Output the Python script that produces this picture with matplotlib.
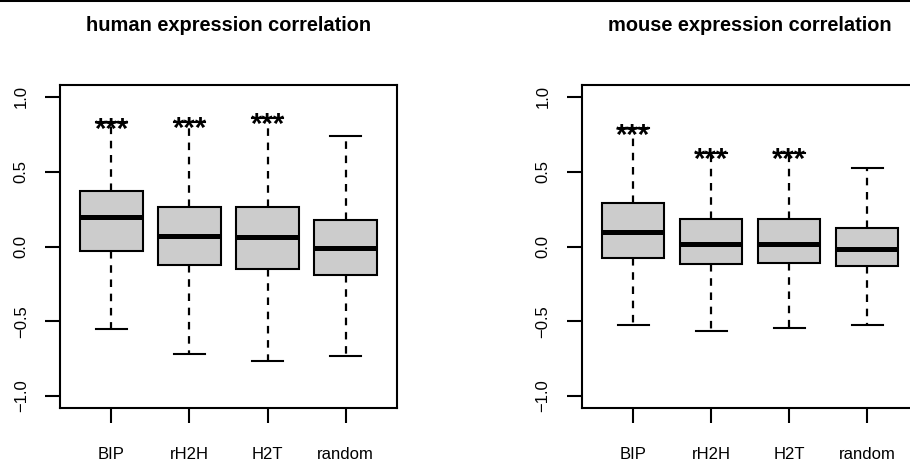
import matplotlib as mpl
mpl.use('Agg')
import matplotlib.pyplot as plt  # NOQA
from matplotlib.lines import Line2D  # NOQA

plt.rcParams['font.family'] = ['Liberation Sans', 'DejaVu Sans']

groups = ['BIP', 'rH2H', 'H2T', 'random']
y_ticks = [-1.0, -0.5, 0.0, 0.5, 1.0]
y_ticklabels = ['\u22121.0', '\u22120.5', '0.0', '0.5', '1.0']

# human panel
human_whislo = [-0.555, -0.72, -0.765, -0.735]
human_q1 = [-0.027, -0.125, -0.15, -0.19]
human_med = [0.20, 0.067, 0.062, -0.01]
human_q3 = [0.37, 0.263, 0.263, 0.18]
human_whishi = [0.83, 0.832, 0.862, 0.74]
human_stars = ['***', '***', '***', '']

# mouse panel
mouse_whislo = [-0.527, -0.562, -0.547, -0.522]
mouse_q1 = [-0.078, -0.117, -0.107, -0.133]
mouse_med = [0.10, 0.016, 0.016, -0.015]
mouse_q3 = [0.293, 0.185, 0.185, 0.127]
mouse_whishi = [0.79, 0.625, 0.625, 0.523]
mouse_stars = ['***', '***', '***', '']


def draw_panel(ax, title, whislo, q1, med, q3, whishi, stars):
    stats = []
    for i in range(len(groups)):
        stats.append({'label': groups[i], 'whislo': whislo[i], 'q1': q1[i],
                      'med': med[i], 'q3': q3[i], 'whishi': whishi[i],
                      'fliers': []})
    ax.bxp(stats, positions=range(1, len(groups) + 1), widths=0.8,
           capwidths=0.4, patch_artist=True, showfliers=False,
           boxprops={'facecolor': '#cccccc', 'edgecolor': 'black',
                     'linewidth': 1.5},
           medianprops={'color': 'black', 'linewidth': 3.6,
                        'solid_capstyle': 'butt'},
           whiskerprops={'color': 'black', 'linewidth': 1.6,
                         'linestyle': (0, (3.4, 3.0))},
           capprops={'color': 'black', 'linewidth': 1.5})

    for i, s in enumerate(stars):
        if s:
            ax.annotate(s, (i + 1, whishi[i]), xytext=(0, -11),
                        textcoords='offset points', ha='center',
                        va='baseline', fontsize=21, fontweight='bold')

    ax.set_xlim(0.34, len(groups) + 0.66)
    ax.set_ylim(-1.08, 1.08)
    ax.set_yticks(y_ticks)
    ax.set_yticklabels(y_ticklabels, rotation=90, va='center')
    ax.tick_params(axis='both', direction='out', length=10.5, width=1.5,
                   labelsize=12)
    ax.tick_params(axis='y', pad=12)
    ax.tick_params(axis='x', pad=17.5)
    for sp in ax.spines.values():
        sp.set_linewidth(1.5)
    ax.set_title(title, fontsize=14.4, fontweight='bold', pad=39)


fig = plt.figure(figsize=(9.1, 4.63), dpi=100)
ax1 = fig.add_axes([60 / 910, 55 / 463, 337 / 910, 323 / 463])
ax2 = fig.add_axes([581.7 / 910, 55 / 463, 337 / 910, 323 / 463])

draw_panel(ax1, 'human expression correlation', human_whislo, human_q1,
           human_med, human_q3, human_whishi, human_stars)
draw_panel(ax2, 'mouse expression correlation', mouse_whislo, mouse_q1,
           mouse_med, mouse_q3, mouse_whishi, mouse_stars)

fig.add_artist(Line2D([0, 1], [1, 1], transform=fig.transFigure,
                      color='black', linewidth=2.2))

fig.savefig('out.png', dpi=100)
